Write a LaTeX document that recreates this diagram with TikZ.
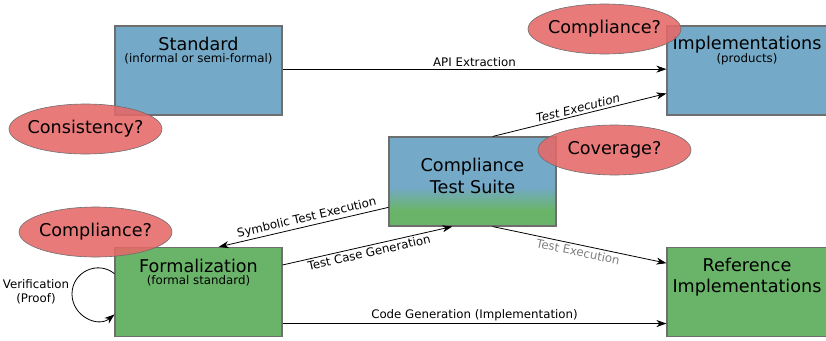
\documentclass[tikz,border=0pt]{standalone}
\usepackage{fontspec}
\setmainfont{DejaVu Sans}
\usetikzlibrary{arrows.meta,shapes.geometric,calc}
\definecolor{cblue}{RGB}{116,169,200}
\definecolor{cgreen}{RGB}{106,180,106}
\definecolor{cred}{RGB}{230,104,104}
\definecolor{cborder}{RGB}{110,110,110}
\pgfdeclareverticalshading{ctsshade}{100bp}{color(0bp)=(cgreen); color(34bp)=(cgreen); color(47bp)=(cblue); color(100bp)=(cblue)}
\tikzset{
  box/.style={rectangle, draw=cborder, line width=1.1pt, inner sep=0pt, minimum width=167pt, minimum height=89pt},
  bluebox/.style={box, fill=cblue},
  greenbox/.style={box, fill=cgreen},
  title/.style={font=\fontsize{17.6}{21.5}\selectfont, align=center, inner sep=0pt},
  sub/.style={font=\fontsize{11.8}{13}\selectfont, inner sep=0pt},
  question/.style={ellipse, draw=cborder, line width=0.6pt, fill=cred, fill opacity=0.88, minimum width=153pt, minimum height=50pt, inner sep=0pt},
  qtext/.style={font=\fontsize{17.6}{21}\selectfont, inner sep=0pt},
  conn/.style={line width=0.8pt, -{Stealth[length=10pt,width=7pt,inset=3pt]}},
  elab/.style={font=\fontsize{11.8}{13}\selectfont, inner sep=2pt},
}
\begin{document}
\begin{tikzpicture}[x=1pt,y=-1pt]
\useasboundingbox (0,0) rectangle (826,340);
% boxes
\node[bluebox] (std) at (198.5,70.5) {};
\node[bluebox, minimum width=160pt] (impl) at (747,70.5) {};
\node[box, shading=ctsshade] (cts) at (472.5,181.5) {};
\node[greenbox] (form) at (198.5,292) {};
\node[greenbox, minimum width=160pt] (ref) at (747,292) {};
% titles
\node[title] (stdt) at (198.5,43.5) {Standard};
\node[sub] (stds) at (198.5,58.5) {(informal or semi-formal)};
\node[title] (implt) at (747,44.5) {Implementations};
\node[sub] (impls) at (747,59.5) {(products)};
\node[title] (ctst) at (472.5,176) {Compliance\\Test Suite};
\node[title] (formt) at (198.5,265.5) {Formalization};
\node[sub] (forms) at (198.5,280.5) {(formal standard)};
\node[title] (reft) at (747,277) {Reference\\Implementations};
% connectors
\draw[conn] ($(std.north east)!0.485!(std.south east)$) -- node[elab, above] {API Extraction} ($(impl.north west)!0.485!(impl.south west)$);
\draw[conn] ($(cts.north west)!0.62!(cts.north east)$) -- node[elab, above, sloped, font=\fontsize{11.8}{13}\selectfont\itshape] {Test Execution} ($(impl.north west)!0.755!(impl.south west)$);
\draw[conn] ($(cts.north west)!0.787!(cts.south west)$) -- node[elab, above, sloped, pos=0.47] {Symbolic Test Execution} ($(form.north west)!0.62!(form.north east)$);
\draw[conn] ($(form.north east)!0.2!(form.south east)$) -- node[elab, below, sloped] {Test Case Generation} ($(cts.south west)!0.38!(cts.south east)$);
\draw[conn] ($(cts.south west)!0.62!(cts.south east)$) -- node[elab, below, sloped, text=gray] {Test Execution} ($(ref.north west)!0.18!(ref.south west)$);
\draw[conn] ($(form.north east)!0.85!(form.south east)$) -- node[elab, above] {Code Generation (Implementation)} ($(ref.north west)!0.85!(ref.south west)$);
% self loop
\coordinate (l1) at ($(form.north west)!0.297!(form.south west)$);
\coordinate (l2) at ($(form.north west)!0.749!(form.south west)$);
\draw[conn] (l1) .. controls (97.8,259.9) and (72,271.9) .. (72,294) .. controls (72,316.1) and (97.8,328.1) .. (l2);
\node[font=\fontsize{11.8}{14}\selectfont, align=center, inner sep=0pt] (verif) at (36,292) {Verification\\(Proof)};
% questions
\node[question] (cons) at (85.5,129) {};
\node[qtext] (const) at (cons.center) {Consistency?};
\node[question] (compl1) at (604.5,29) {};
\node[qtext] (compl1t) at (compl1.center) {Compliance?};
\node[question] (cov) at (614.5,150) {};
\node[qtext] (covt) at (cov.center) {Coverage?};
\node[question] (compl2) at (95.5,232) {};
\node[qtext] (compl2t) at (compl2.center) {Compliance?};
\end{tikzpicture}
\end{document}
